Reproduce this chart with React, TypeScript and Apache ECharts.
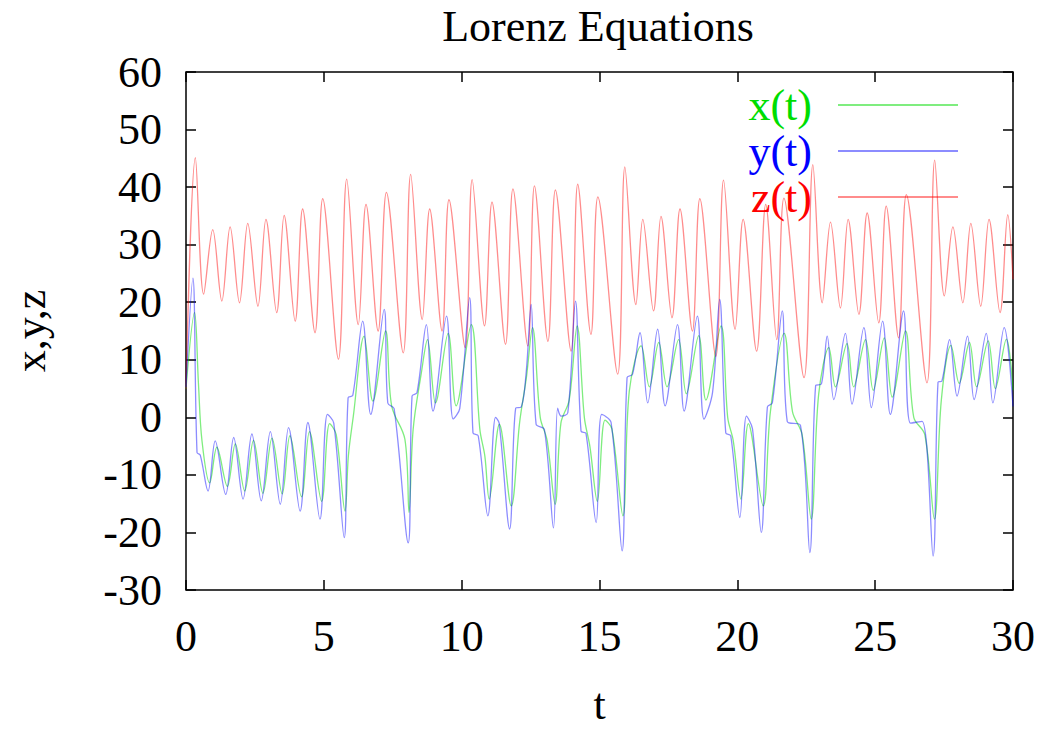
import React, { useEffect, useRef } from "react";
import * as echarts from "echarts";

// time (t) and value pairs
const xSeries: number[][] = [
  [0, 5], [0.31, 18.2], [0.45, 6], [0.58, -4.1], [0.86, -11.4], [1.12, -5.2], [1.5, -12.0], [1.79, -4.6],
  [2.13, -12.8], [2.45, -4.0], [2.79, -13.2], [3.12, -3.6], [3.49, -13.3], [3.77, -3.2], [4.19, -13.8],
  [4.48, -2.5], [4.92, -14.6], [5.21, -1.1], [5.45, -3.0], [5.77, -16.3], [5.89, -6.7], [6.07, 0.2],
  [6.46, 14.1], [6.78, 2.8], [7.24, 15.0], [7.46, 2.0], [7.94, -3.8], [8.09, -16.5], [8.24, -2.1],
  [8.54, 7.8], [8.76, 13.5], [9.05, 2.5], [9.51, 14.6], [9.8, 2.0], [10.35, 16.1], [10.66, -2.1],
  [10.84, -6.7], [11.0, -14.2], [11.37, -1.2], [11.8, -15.4], [12.1, -1.0], [12.35, 7.0], [12.57, 15.6],
  [12.85, 0.0], [13.1, -4.0], [13.39, -15.1], [13.6, -1.0], [13.9, 3.0], [14.19, 15.9], [14.45, 0.0],
  [14.65, -5.0], [14.92, -14.6], [15.2, -0.5], [15.45, -2.0], [15.85, -17.1], [16.08, 4.5], [16.51, 12.4],
  [16.81, 5.3], [17.15, 13.0], [17.45, 5.3], [17.87, 13.5], [18.15, 4.1], [18.6, 14.2], [18.86, 3.0],
  [19.41, 15.9], [19.65, 0.0], [19.85, -4.0], [20.13, -14.2], [20.4, -1.1], [20.94, -15.4], [21.2, 1.0],
  [21.7, 14.6], [22.0, 1.0], [22.35, -3.0], [22.68, -17.7], [22.95, 4.0], [23.32, 12.1], [23.56, 5.3],
  [23.98, 12.8], [24.22, 5.3], [24.65, 13.5], [24.93, 4.7], [25.33, 13.8], [25.62, 3.5], [26.1, 15.0],
  [26.4, 0.0], [26.8, -3.0], [27.15, -17.7], [27.4, 3.0], [27.75, 12.5], [28.05, 5.9], [28.42, 13.0],
  [28.68, 5.3], [29.1, 13.3], [29.36, 5.0], [29.76, 13.6], [30, 4.7],
];

const ySeries: number[][] = [
  [0, 5.2], [0.25, 24.2], [0.4, -6.1], [0.52, -6.6], [0.8, -12.8], [1.06, -4.1], [1.44, -13.4], [1.73, -3.5],
  [2.07, -14.2], [2.39, -2.9], [2.73, -14.5], [3.06, -2.5], [3.42, -15.1], [3.72, -1.8], [4.14, -16.3],
  [4.42, -0.9], [4.86, -17.7], [5.13, 0.5], [5.36, -1.0], [5.74, -20.9], [5.88, 3.4], [6.05, 3.8],
  [6.41, 16.7], [6.7, 0.5], [7.19, 18.75], [7.32, 2.5], [7.55, 1.5], [8.06, -21.8], [8.2, 3.7], [8.38, 4.3],
  [8.72, 16.1], [8.96, 1.1], [9.45, 17.6], [9.69, -0.3], [9.93, 1.5], [10.29, 20.8], [10.41, -2.7],
  [10.6, -3.2], [10.95, -17.1], [11.23, 0.0], [11.36, -1.0], [11.74, -19.4], [11.96, 1.6], [12.16, 1.8],
  [12.34, 7.8], [12.52, 19.6], [12.7, -1.2], [13.0, -2.1], [13.33, -19.2], [13.48, 1.6], [13.61, 0.2],
  [13.85, 0.8], [14.13, 20.2], [14.33, -2.4], [14.51, -2.8], [14.88, -18.3], [15.08, 0.5], [15.42, -0.9],
  [15.82, -23.2], [16.0, 6.9], [16.2, 7.5], [16.47, 14.7], [16.75, 2.5], [17.11, 15.3], [17.38, 2.0],
  [17.83, 16.1], [18.07, 1.1], [18.55, 17.6], [18.79, -0.3], [19.1, 4.3], [19.36, 20.5], [19.58, -2.7],
  [19.76, -3.2], [20.09, -17.4], [20.33, 0.2], [20.55, -2.0], [20.87, -20.0], [21.09, 1.8], [21.27, 2.5],
  [21.63, 18.5], [21.81, -0.7], [22.29, -1.4], [22.63, -23.5], [22.84, 5.5], [23.05, 5.8], [23.26, 14.1],
  [23.5, 3.1], [23.92, 14.6], [24.16, 2.3], [24.59, 15.6], [24.86, 1.7], [25.27, 16.7], [25.55, 0.5],
  [26.03, 18.5], [26.28, -1.0], [26.7, -0.7], [27.1, -24.1], [27.28, 6.1], [27.42, 6.3], [27.7, 13.5],
  [27.97, 3.7], [28.35, 14.1], [28.59, 3.1], [29.03, 14.6], [29.27, 2.5], [29.68, 15.6], [30, 1.9],
];

const zSeries: number[][] = [
  [0, 5], [0.34, 45.1], [0.64, 21.4], [0.97, 32.6], [1.3, 20.2], [1.6, 33.1], [1.94, 19.9], [2.24, 33.7],
  [2.61, 19.3], [2.9, 34.4], [3.29, 18.2], [3.56, 35.1], [3.96, 16.7], [4.23, 36.2], [4.68, 14.7],
  [4.96, 38.0], [5.53, 10.1], [5.83, 41.4], [6.25, 16.1], [6.53, 37.0], [6.97, 15.0], [7.27, 39.1],
  [7.88, 11.2], [8.15, 42.2], [8.57, 17.0], [8.84, 36.2], [9.29, 15.0], [9.54, 37.8], [10.13, 12.1],
  [10.38, 41.3], [10.83, 15.9], [11.1, 37.4], [11.59, 12.7], [11.86, 39.7], [12.4, 12.4], [12.64, 40.2],
  [13.13, 13.2], [13.4, 39.5], [13.97, 11.5], [14.21, 40.5], [14.69, 14.4], [14.94, 38.3], [15.66, 7.5],
  [15.92, 43.5], [16.32, 19.6], [16.57, 34.4], [16.96, 18.5], [17.23, 34.9], [17.63, 17.3], [17.92, 36.2],
  [18.37, 15.0], [18.64, 38.0], [19.22, 10.6], [19.5, 41.2], [19.92, 15.3], [20.21, 34.4], [20.7, 11.5],
  [21.03, 37.0], [21.43, 13.5], [21.69, 38.1], [22.42, 6.9], [22.74, 43.9], [23.08, 19.9], [23.38, 33.9],
  [23.74, 19.0], [24.02, 34.4], [24.41, 17.9], [24.71, 35.5], [25.13, 16.4], [25.4, 36.7], [25.85, 13.8],
  [26.13, 38.7], [26.88, 6.0], [27.16, 44.7], [27.51, 21.1], [27.82, 33.1], [28.18, 19.9], [28.47, 33.7],
  [28.83, 19.3], [29.13, 34.4], [29.53, 18.2], [29.81, 35.2], [30, 24.0],
];

const seriesNames = ["x(t)", "y(t)", "z(t)"];
const textColors = ["#00dd00", "#0000ff", "#ff0000"];
const lineColors = ["rgba(0,220,0,0.5)", "rgba(0,0,255,0.45)", "rgba(255,0,0,0.45)"];

const FONT = "'Liberation Serif', 'Times New Roman', serif";

export default function App() {
  const ref = useRef<HTMLDivElement>(null);

  useEffect(() => {
    document.body.style.margin = "0";
    const chart = echarts.init(ref.current!, null, { renderer: "svg" });
    const tickStyle = { color: "#000", width: 1.5 };
    const data = [xSeries, ySeries, zSeries];
    chart.setOption({
      animation: false,
      backgroundColor: "#ffffff",
      title: {
        text: "Lorenz Equations",
        left: 598,
        top: 4,
        padding: 0,
        textAlign: "center",
        textStyle: { fontFamily: FONT, fontSize: 44, fontWeight: "normal", color: "#000" },
      },
      grid: {
        left: 184,
        right: 26,
        top: 72,
        bottom: 157,
        show: true,
        borderColor: "#000",
        borderWidth: 1.5,
        backgroundColor: "transparent",
      },
      legend: {
        orient: "vertical",
        right: 76,
        top: 77,
        align: "right",
        icon: "rect",
        itemWidth: 120,
        itemHeight: 2,
        itemGap: 0,
        textStyle: { fontFamily: FONT, fontSize: 44, lineHeight: 46, padding: [0, 21, 0, 0] },
        data: seriesNames.map((n, i) => ({ name: n, textStyle: { color: textColors[i] } })),
      },
      xAxis: [
        {
          type: "value",
          min: 0,
          max: 30,
          interval: 5,
          position: "bottom",
          name: "t",
          nameLocation: "middle",
          nameGap: 92,
          nameTextStyle: { fontFamily: FONT, fontSize: 44, color: "#000" },
          axisLine: { show: false, onZero: false },
          axisTick: { inside: true, length: 10, lineStyle: tickStyle },
          axisLabel: { margin: 24, fontFamily: FONT, fontSize: 44, color: "#000" },
          splitLine: { show: false },
        },
        {
          type: "value",
          min: 0,
          max: 30,
          interval: 5,
          position: "top",
          axisLine: { show: false, onZero: false },
          axisTick: { inside: true, length: 10, lineStyle: tickStyle },
          axisLabel: { show: false },
          splitLine: { show: false },
        },
      ],
      yAxis: [
        {
          type: "value",
          min: -30,
          max: 60,
          interval: 10,
          position: "left",
          name: "x,y,z",
          nameLocation: "middle",
          nameGap: 134,
          nameTextStyle: { fontFamily: FONT, fontSize: 44, color: "#000" },
          axisLine: { show: false, onZero: false },
          axisTick: { inside: true, length: 10, lineStyle: tickStyle },
          axisLabel: { margin: 24, fontFamily: FONT, fontSize: 44, color: "#000" },
          splitLine: { show: false },
        },
        {
          type: "value",
          min: -30,
          max: 60,
          interval: 10,
          position: "right",
          axisLine: { show: false, onZero: false },
          axisTick: { inside: true, length: 10, lineStyle: tickStyle },
          axisLabel: { show: false },
          splitLine: { show: false },
        },
      ],
      series: seriesNames.map((n, i) => ({
        name: n,
        type: "line",
        xAxisIndex: 0,
        yAxisIndex: 0,
        data: data[i],
        showSymbol: false,
        symbol: "none",
        smooth: 0.35,
        color: lineColors[i],
        lineStyle: { color: lineColors[i], width: 1.3 },
        z: i === 1 ? 3 : 2,
      })),
    });
    return () => chart.dispose();
  }, []);

  return <div ref={ref} style={{ width: 1039, height: 747, background: "#fff" }} />;
}
